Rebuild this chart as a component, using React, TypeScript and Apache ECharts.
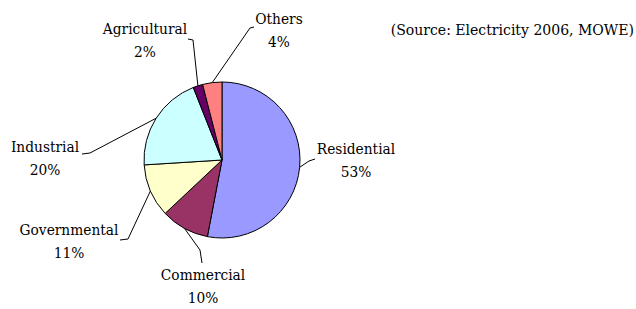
import React, { useEffect, useRef } from "react";
import * as echarts from "echarts";

const categories = ["Residential", "Commercial", "Governmental", "Industrial", "Agricultural", "Others"];
const shares = [53, 10, 11, 20, 2, 4];
const sliceColors = ["#9999FF", "#993366", "#FFFFCC", "#CCFFFF", "#660066", "#FF8080"];
const sourceNote = "(Source: Electricity 2006, MOWE)";

// label placement (layout only): label block centre, bend point, line end
const labelSpots = [
  { x: 356, y: 160, bend: [309, 161], end: [315, 159] },
  { x: 203, y: 286, bend: [200, 250], end: [202, 263] },
  { x: 69, y: 241, bend: [128, 239], end: [120, 240] },
  { x: 45, y: 158, bend: [90, 153], end: [82, 154] },
  { x: 145, y: 40, bend: [193, 40], end: [188, 39] },
  { x: 279, y: 30, bend: [250, 28], end: [254, 27] },
];

export default function App() {
  const ref = useRef<HTMLDivElement>(null);
  useEffect(() => {
    if (!ref.current) return;
    const chart = echarts.init(ref.current, null, { renderer: "svg" });
    const font = "DejaVu Serif Condensed";
    chart.setOption({
      animation: false,
      backgroundColor: "#ffffff",
      graphic: [
        {
          type: "text",
          x: 634,
          y: 30,
          style: {
            text: sourceNote,
            fontFamily: font,
            fontSize: 15.6,
            fill: "#000",
            textAlign: "right",
            textVerticalAlign: "middle",
          },
        },
      ],
      series: [
        {
          type: "pie",
          center: [222, 160],
          radius: 78,
          startAngle: 90,
          clockwise: true,
          avoidLabelOverlap: false,
          data: categories.map((name, i) => ({
            name,
            value: shares[i],
            itemStyle: { color: sliceColors[i] },
          })),
          itemStyle: { borderColor: "#000", borderWidth: 1 },
          label: {
            show: true,
            position: "outside",
            formatter: "{b}\n{c}%",
            fontFamily: font,
            fontSize: 15.3,
            lineHeight: 23,
            color: "#000",
            align: "center",
          },
          labelLine: {
            show: true,
            length: 10,
            length2: 10,
            lineStyle: { color: "#000", width: 1 },
          },
          labelLayout: (params: any) => {
            const s = labelSpots[params.dataIndex];
            const pts = params.labelLinePoints;
            return {
              x: s.x,
              y: s.y,
              align: "center",
              verticalAlign: "middle",
              labelLinePoints: [pts ? pts[0] : s.bend, s.bend, s.end],
            };
          },
          emphasis: { disabled: true },
        },
      ],
    });
    return () => chart.dispose();
  }, []);
  return (
    <div
      ref={ref}
      style={{ position: "fixed", left: 0, top: 0, width: 636, height: 309 }}
    />
  );
}
